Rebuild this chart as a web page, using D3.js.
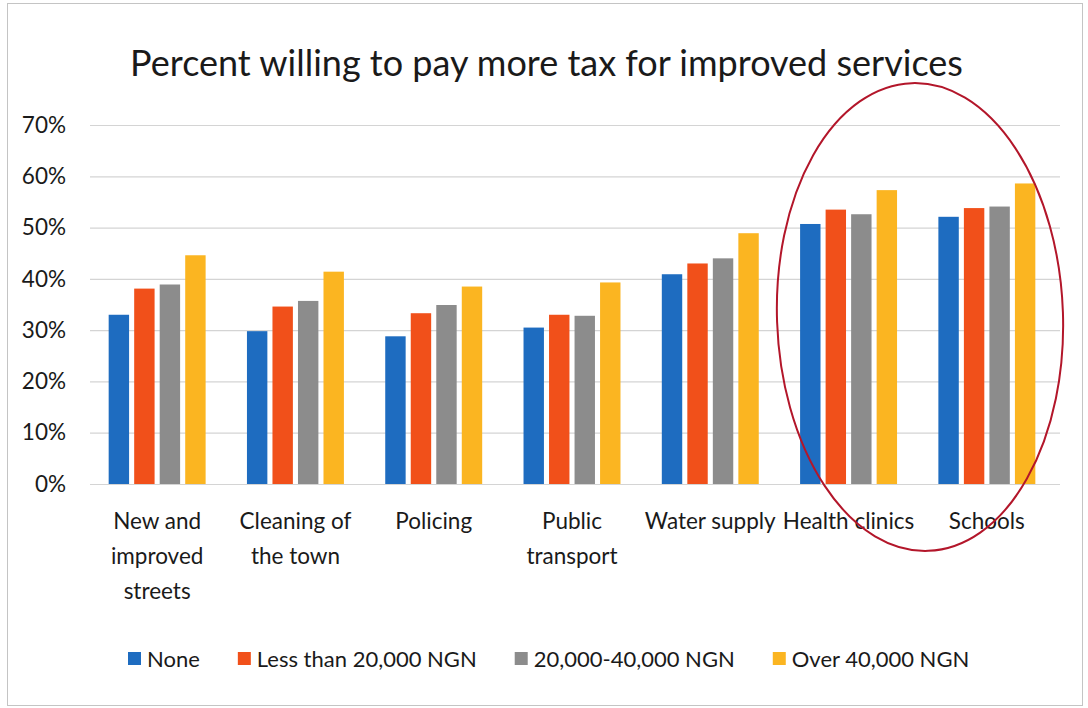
<!DOCTYPE html>
<html>
<head>
<meta charset="utf-8">
<script src="https://cdn.jsdelivr.net/npm/d3@7"></script>
<style>
  html, body { margin: 0; padding: 0; background: #ffffff; }
  svg { display: block; }
  text { font-family: Lato, "Open Sans", sans-serif; fill: #1a1a1a; }
</style>
</head>
<body>
<svg id="chart" width="1088" height="708"></svg>
<script>
// ---- data ----
const title = "Percent willing to pay more tax for improved services";
const categories = ["New and\nimproved\nstreets", "Cleaning of\nthe town", "Policing", "Public\ntransport", "Water supply", "Health clinics", "Schools"];
const seriesNames = ["None", "Less than 20,000 NGN", "20,000-40,000 NGN", "Over 40,000 NGN"];
const noneValues   = [33.0, 29.8, 28.8, 30.5, 40.9, 50.7, 52.1];
const lessValues   = [38.1, 34.6, 33.3, 33.0, 43.0, 53.5, 53.8];
const midValues    = [38.9, 35.7, 34.9, 32.8, 44.0, 52.6, 54.1];
const overValues   = [44.6, 41.4, 38.5, 39.3, 48.9, 57.3, 58.6];
const yTicks = [0, 10, 20, 30, 40, 50, 60, 70];
const seriesColors = ["#1e6cc0", "#f1501a", "#8c8c8c", "#fbb521"];

const seriesValues = [noneValues, lessValues, midValues, overValues];

// ---- layout ----
const svg = d3.select("#chart");
const W = 1088, H = 708;
const plotLeft = 88, plotRight = 1056, plotTop = 125, plotBottom = 484;

svg.append("rect").attr("x", 0).attr("y", 0).attr("width", W).attr("height", H).attr("fill", "#fff");
// outer frame
svg.append("rect").attr("x", 7.5).attr("y", 3.5).attr("width", 1075).attr("height", 702)
  .attr("fill", "none").attr("stroke", "#c4c4c4").attr("stroke-width", 1);

const x0 = d3.scaleBand().domain(categories).range([plotLeft, plotRight]).paddingInner(0).paddingOuter(0);
const x1 = d3.scaleBand().domain(seriesNames).range([0, x0.bandwidth()]).paddingInner(0.2).paddingOuter(0.81);
const y = d3.scaleLinear().domain([0, 70]).range([plotBottom, plotTop]);

// y axis + gridlines
const yAxis = d3.axisLeft(y).tickValues(yTicks).tickFormat(d => d + "%")
  .tickSizeInner(-(plotRight - plotLeft + 2)).tickSizeOuter(0).tickPadding(24);
const gy = svg.append("g").attr("transform", `translate(${plotLeft + 2},0)`).call(yAxis);
gy.select(".domain").remove();
gy.selectAll(".tick line").attr("stroke", "#d4d4d4").attr("stroke-width", 1.2);
gy.selectAll(".tick text").attr("font-size", 22.5).attr("fill", "#1a1a1a").attr("font-family", "Lato, sans-serif");

// bars
const groups = svg.append("g").selectAll("g").data(categories).join("g")
  .attr("transform", d => `translate(${x0(d)},0)`);
groups.selectAll("rect")
  .data((c, ci) => seriesNames.map((s, si) => ({ s, si, v: seriesValues[si][ci] })))
  .join("rect")
  .attr("x", d => x1(d.s))
  .attr("width", x1.bandwidth())
  .attr("y", d => y(d.v))
  .attr("height", d => y(0) - y(d.v))
  .attr("fill", d => seriesColors[d.si]);

// category labels
const xAxis = d3.axisBottom(x0).tickSize(0).tickFormat("");
const gx = svg.append("g").attr("transform", `translate(0,${plotBottom})`).call(xAxis);
gx.select(".domain").remove();
const lineH = 35;
gx.selectAll(".tick").each(function(d) {
  const t = d3.select(this).append("text")
    .attr("text-anchor", "middle").attr("font-size", 22.5).attr("fill", "#1a1a1a")
    .attr("font-family", "Lato, sans-serif");
  d.split("\n").forEach((ln, i) => {
    t.append("tspan").attr("x", 0).attr("y", 45 + i * lineH).text(ln);
  });
});

// title
const tt = svg.append("text").attr("x", 546.5).attr("y", 76).attr("text-anchor", "middle")
  .attr("font-size", 36).attr("fill", "#1a1a1a").text(title);
const tw = tt.node().getComputedTextLength();
tt.attr("font-size", 36 * 833 / tw);

// legend
const leg = svg.append("g");
const legY = 659;
const items = leg.selectAll("g").data(seriesNames).join("g");
items.append("rect").attr("x", 0).attr("y", legY - 7).attr("width", 13).attr("height", 13)
  .attr("fill", (d, i) => seriesColors[i]);
items.append("text").attr("x", 19).attr("y", legY + 8).attr("font-size", 22).attr("fill", "#1a1a1a").text(d => d);
const widths = [];
items.each(function() { widths.push(this.getBBox().width); });
const gap = 38;
let start = 128;
items.attr("transform", (d, i) => {
  const tr = `translate(${start},0)`;
  start += widths[i] + gap;
  return tr;
});

// red annotation ellipse
svg.append("ellipse").attr("cx", 920).attr("cy", 317).attr("rx", 143).attr("ry", 234)
  .attr("fill", "none").attr("stroke", "#b3162a").attr("stroke-width", 2)
  .attr("transform", "rotate(-2 920 317)");
</script>
</body>
</html>
